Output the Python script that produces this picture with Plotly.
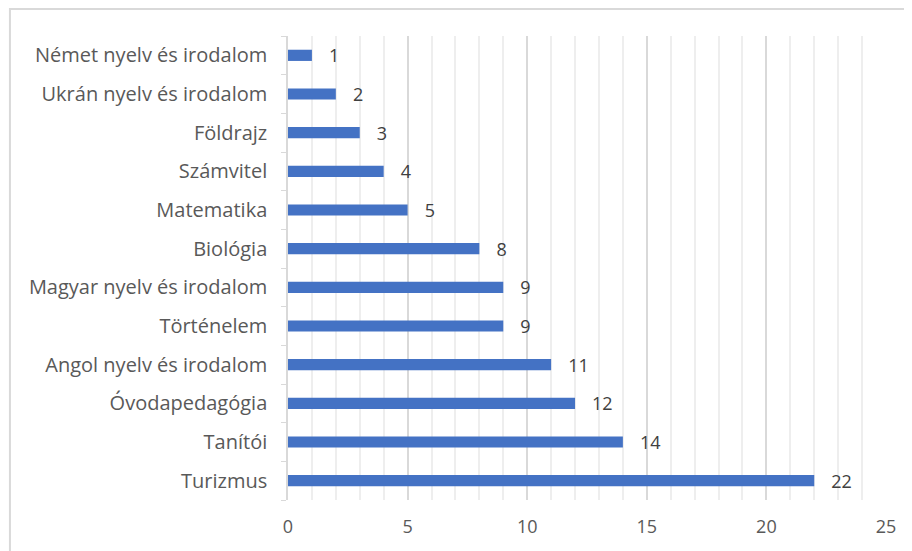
import plotly.graph_objects as go

categories = ["Turizmus", "Tanítói", "Óvodapedagógia", "Angol nyelv és irodalom",
              "Történelem", "Magyar nyelv és irodalom", "Biológia", "Matematika",
              "Számvitel", "Földrajz", "Ukrán nyelv és irodalom", "Német nyelv és irodalom"]
values = [22, 14, 12, 11, 9, 9, 8, 5, 4, 3, 2, 1]
x_ticks = [0, 5, 10, 15, 20, 25]

FONT = "Open Sans"

fig = go.Figure(go.Bar(
    x=values, y=categories, orientation="h",
    marker=dict(color="#4472C4", line=dict(width=0)),
    width=0.29,
    text=["\u00a0\u00a0\u00a0" + str(v) for v in values],
    textposition="outside",
    constraintext="none",
    textfont=dict(family=FONT, size=18, color="#404040"),
    cliponaxis=False,
))

fig.update_layout(
    width=904, height=543,
    margin=dict(l=280, r=26, t=28, b=51),
    paper_bgcolor="white", plot_bgcolor="white",
    showlegend=False,
    xaxis=dict(
        range=[0, 25], tickvals=x_ticks, showgrid=True, gridcolor="#d9d9d9", gridwidth=1.5,
        zeroline=False, showline=False, ticks="",
        tickfont=dict(family=FONT, size=18, color="#595959"),
        ticklabelstandoff=14,
        minor=dict(dtick=1, showgrid=True, gridcolor="#eeeeee", gridwidth=1.5),
        fixedrange=True,
    ),
    yaxis=dict(
        categoryorder="array", categoryarray=categories,
        showline=True, linecolor="#d9d9d9", linewidth=1.5,
        ticks="outside", ticklen=5, tickcolor="#d9d9d9", tickson="boundaries",
        tickfont=dict(family=FONT, size=20, color="#595959"),
        ticklabelstandoff=15,
        showgrid=False, zeroline=False,
    ),
    shapes=[dict(type="rect", xref="paper", yref="paper",
                 x0=-0.465, x1=1.2, y0=-0.2, y1=1.058,
                 line=dict(color="#d9d9d9", width=2), fillcolor="rgba(0,0,0,0)", layer="below")],
)

fig.write_html("out.html")
